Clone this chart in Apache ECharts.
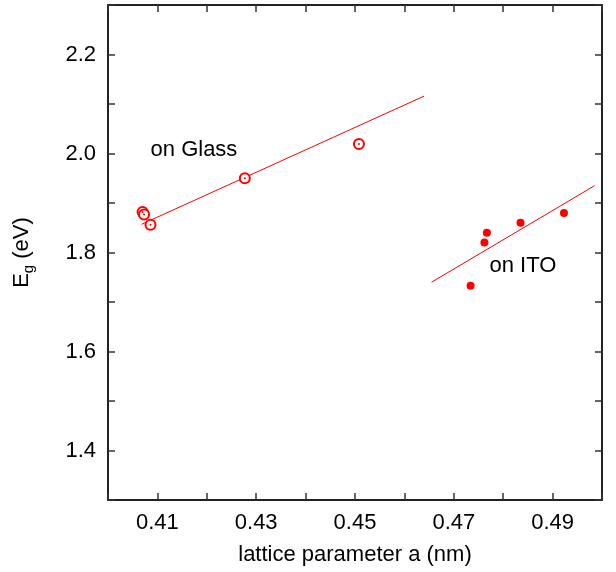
<!DOCTYPE html>
<html>
<head>
    <meta charset="utf-8">
    <script src="https://cdn.jsdelivr.net/npm/echarts@6/dist/echarts.min.js"></script>
</head>
<body style="margin:0">
    <div id="main" style="width:616px;height:572px"></div>
    <script type="text/javascript">
        // measured points: lattice parameter a (nm) vs Eg (eV)
        var glassA  = [0.4070, 0.4073, 0.4086, 0.4277, 0.4508];
        var glassEg = [1.882, 1.877, 1.856, 1.950, 2.019];
        var itoA    = [0.4734, 0.4762, 0.4767, 0.4835, 0.4923];
        var itoEg   = [1.733, 1.820, 1.840, 1.860, 1.880];

        // linear fits (end points)
        var glassFitA  = [0.4068, 0.4640];
        var glassFitEg = [1.857, 2.116];
        var itoFitA    = [0.4655, 0.4985];
        var itoFitEg   = [1.740, 1.935];

        var xTickLabels = ['0.41', '0.43', '0.45', '0.47', '0.49'];
        var yTickLabels = ['1.4', '1.6', '1.8', '2.0', '2.2'];

        var notes = [['on Glass', 0.4174, 2.008], ['on ITO', 0.4840, 1.773]];

        function pairs(xs, ys) {
            var out = [];
            for (var i = 0; i < xs.length; i++) out.push([xs[i], ys[i]]);
            return out;
        }

        var font = 'Liberation Sans';
        var fs = 22;
        var axisLine = { show: true, onZero: false, lineStyle: { color: '#222', width: 2 } };
        var ticks = { show: true, inside: true, length: 7, lineStyle: { color: '#333', width: 1.5 } };

        var myChart = echarts.init(document.getElementById('main'));

        var option = {
            animation: false,
            backgroundColor: '#fff',
            grid: { left: 108, right: 14, top: 5, bottom: 72 },
            xAxis: [{
                type: 'value', position: 'bottom',
                min: 0.40, max: 0.50, interval: 0.01,
                axisLine: axisLine, axisTick: ticks, splitLine: { show: false },
                axisLabel: {
                    margin: 12, color: '#000', fontFamily: font, fontSize: fs,
                    formatter: function (v) {
                        var s = v.toFixed(2);
                        return xTickLabels.indexOf(s) >= 0 ? s : '';
                    }
                },
                name: 'lattice parameter a (nm)', nameLocation: 'middle', nameGap: 44,
                nameTextStyle: { color: '#000', fontFamily: font, fontSize: fs }
            }, {
                type: 'value', position: 'top',
                min: 0.40, max: 0.50, interval: 0.01,
                axisLine: axisLine, axisTick: ticks, splitLine: { show: false },
                axisLabel: { show: false }
            }],
            yAxis: [{
                type: 'value', position: 'left',
                min: 1.3, max: 2.3, interval: 0.1,
                axisLine: axisLine, axisTick: ticks, splitLine: { show: false },
                axisLabel: {
                    margin: 12, color: '#000', fontFamily: font, fontSize: fs,
                    formatter: function (v) {
                        var s = v.toFixed(1);
                        return yTickLabels.indexOf(s) >= 0 ? s : '';
                    }
                },
                name: '{e|E}{g|g}{e| (eV)}', nameLocation: 'middle', nameGap: 72, nameRotate: 90,
                nameTextStyle: {
                    color: '#000', fontFamily: font, fontSize: fs,
                    rich: {
                        e: { fontFamily: font, fontSize: fs, color: '#000' },
                        g: { fontFamily: font, fontSize: 15, color: '#000', padding: [14, 0, 0, 0], verticalAlign: 'bottom' }
                    }
                }
            }, {
                type: 'value', position: 'right',
                min: 1.3, max: 2.3, interval: 0.1,
                axisLine: axisLine, axisTick: ticks, splitLine: { show: false },
                axisLabel: { show: false }
            }],
            series: [{
                name: 'glass fit', type: 'line', data: pairs(glassFitA, glassFitEg),
                symbol: 'none', lineStyle: { color: '#ff0000', width: 1 }, z: 2
            }, {
                name: 'ITO fit', type: 'line', data: pairs(itoFitA, itoFitEg),
                symbol: 'none', lineStyle: { color: '#ff0000', width: 1 }, z: 2
            }, {
                name: 'on Glass', type: 'scatter', data: pairs(glassA, glassEg),
                symbol: 'emptyCircle', symbolSize: 10,
                itemStyle: { color: '#ff0000', borderColor: '#ff0000', borderWidth: 1, opacity: 1 }, z: 3
            }, {
                name: 'glass centre', type: 'scatter', data: pairs(glassA, glassEg),
                symbol: 'circle', symbolSize: 2, itemStyle: { color: '#ff0000', opacity: 1 }, z: 3
            }, {
                name: 'on ITO', type: 'scatter', data: pairs(itoA, itoEg),
                symbol: 'circle', symbolSize: 8, itemStyle: { color: '#ff0000', opacity: 1 }, z: 3
            }, {
                name: 'notes', type: 'scatter', symbolSize: 0, silent: true,
                itemStyle: { opacity: 1 },
                data: notes.map(function (n) { return { name: n[0], value: [n[1], n[2]] }; }),
                label: {
                    show: true, position: 'inside', formatter: '{b}',
                    color: '#000', fontFamily: font, fontSize: fs
                }
            }]
        };

        myChart.setOption(option);
    </script>
</body>
</html>
